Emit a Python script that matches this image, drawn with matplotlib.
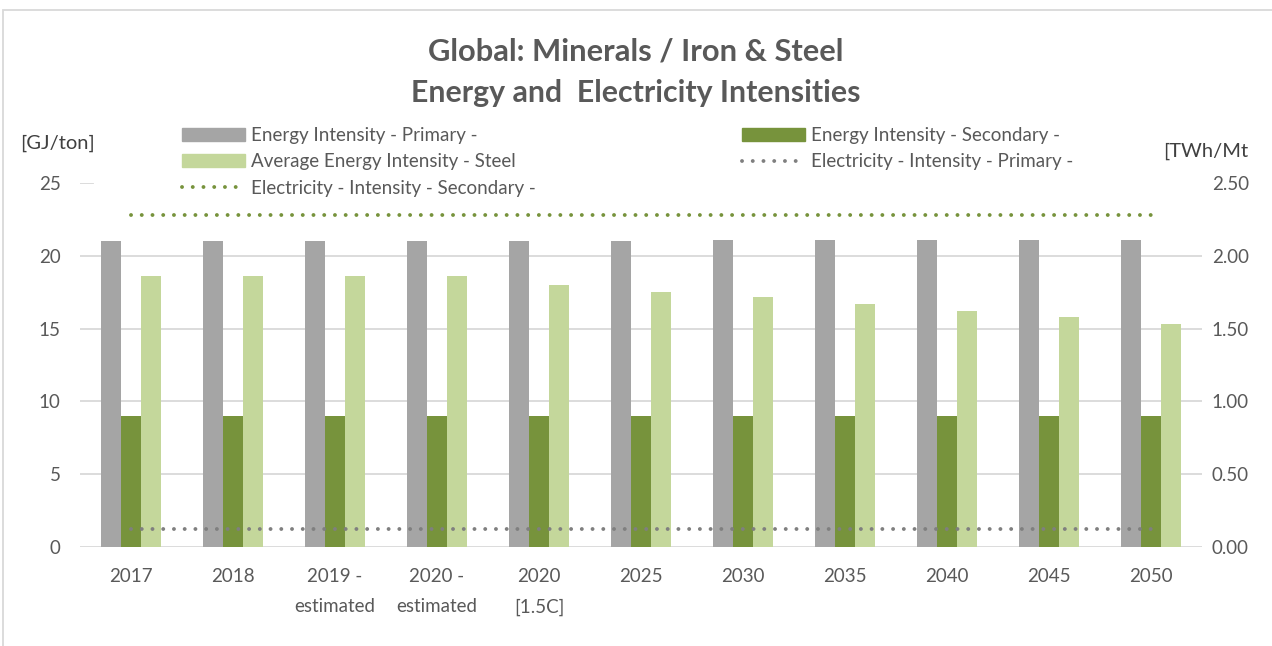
import numpy as np
import matplotlib.pyplot as plt
from matplotlib.patches import Patch, Rectangle
from matplotlib.lines import Line2D

plt.rcParams['font.family'] = ['Lato', 'DejaVu Sans']

# data
categories = ['2017', '2018', '2019 -\nestimated', '2020 -\nestimated', '2020\n[1.5C]',
              '2025', '2030', '2035', '2040', '2045', '2050']
energy_primary = [21.0, 21.0, 21.0, 21.0, 21.0, 21.0, 21.1, 21.1, 21.1, 21.1, 21.1]
energy_secondary = [9.0, 9.0, 9.0, 9.0, 9.0, 9.0, 9.0, 9.0, 9.0, 9.0, 9.0]
avg_steel = [18.6, 18.6, 18.6, 18.6, 18.0, 17.5, 17.2, 16.7, 16.2, 15.8, 15.3]
elec_secondary = [2.28] * 11   # TWh/Mt, right axis
elec_primary = [0.125] * 11    # TWh/Mt, right axis

left_ticks = [0, 5, 10, 15, 20, 25]
right_ticks = [0, 0.5, 1.0, 1.5, 2.0, 2.5]

GRAY = '#A5A5A5'
DKGREEN = '#77933C'
LTGREEN = '#C4D79B'
DOTGRAY = '#7F7F7F'
TXT = '#595959'
GRID = '#D9D9D9'

W, H = 1272, 646
fig = plt.figure(figsize=(W / 100, H / 100), dpi=100)
ax = fig.add_axes([80 / W, 1 - 547 / H, (1202 - 80) / W, (547 - 183) / H])

x = np.arange(len(categories))
bw = 0.19
ax.bar(x - 0.195, energy_primary, bw, color=GRAY, zorder=2)
ax.bar(x, energy_secondary, bw, color=DKGREEN, zorder=2)
ax.bar(x + 0.195, avg_steel, bw, color=LTGREEN, zorder=2)

ax.set_xlim(-0.5, len(categories) - 0.5)
ax.set_ylim(0, 25)
ax.set_yticks(left_ticks)
ax.set_xticks(x)
ax.set_xticklabels(categories, linespacing=1.95)
for y in left_ticks[:-1]:
    ax.axhline(y, color=GRID, lw=1.3, zorder=1)
ax.axhline(left_ticks[-1], xmax=0.012, color=GRID, lw=1.3, zorder=1)
ax.tick_params(axis='y', length=0, pad=14, labelsize=13.5, labelcolor=TXT)
ax.tick_params(axis='x', length=0, pad=15, labelsize=13.5, labelcolor=TXT)
for s in ax.spines.values():
    s.set_visible(False)

ax2 = ax.twinx()
dots = (0, (0.01, 2.75))
ax2.plot(x, elec_secondary, color=DKGREEN, lw=2.8, linestyle=dots, dash_capstyle='round')
ax2.plot(x, elec_primary, color=DOTGRAY, lw=2.8, linestyle=dots, dash_capstyle='round')
ax2.set_ylim(0, 2.5)
ax2.set_yticks(right_ticks)
ax2.set_yticklabels(['%.2f' % v for v in right_ticks])
ax2.tick_params(axis='y', length=0, pad=7, labelsize=13.5, labelcolor=TXT)
for s in ax2.spines.values():
    s.set_visible(False)

fig.text(0.5, 1 - 52 / H, 'Global: Minerals / Iron & Steel', ha='center', va='center',
         fontsize=22.2, fontweight='bold', color=TXT)
fig.text(0.5, 1 - 93 / H, 'Energy and  Electricity Intensities', ha='center', va='center',
         fontsize=21.8, fontweight='bold', color=TXT)
fig.text(20 / W, 1 - 143 / H, '[GJ/ton]', ha='left', va='center', fontsize=14.5, color='#404040')
fig.text(1163 / W, 1 - 151 / H, '[TWh/Mt', ha='left', va='center', fontsize=14.5, color='#404040')

h_prim = Patch(color=GRAY)
h_sec = Patch(color=DKGREEN)
h_avg = Patch(color=LTGREEN)
h_esec = Line2D([], [], color=DKGREEN, lw=2.8, linestyle=dots, dash_capstyle='round')
h_eprim = Line2D([], [], color=DOTGRAY, lw=2.8, linestyle=dots, dash_capstyle='round')

leg_kw = dict(frameon=False, fontsize=13.5, labelcolor=TXT, borderpad=0, borderaxespad=0,
              handlelength=3.35, handleheight=0.7, handletextpad=0.35, labelspacing=0.5,
              loc='upper left')
leg1 = fig.legend([h_prim, h_avg, h_esec],
                  ['Energy Intensity - Primary -', 'Average Energy Intensity - Steel',
                   'Electricity - Intensity - Secondary -'],
                  bbox_to_anchor=(182 / W, 1 - 127 / H), **leg_kw)
leg2 = fig.legend([h_sec, h_eprim],
                  ['Energy Intensity - Secondary -', 'Electricity - Intensity - Primary -'],
                  bbox_to_anchor=(742 / W, 1 - 127 / H), **leg_kw)

# outer chart border (top and left edges visible in the crop)
fig.patches.append(Rectangle((3 / W, -0.1), 1.2, 1 - 10 / H + 0.1, transform=fig.transFigure,
                             fill=False, edgecolor=GRID, lw=1.3))

fig.savefig('out.png', dpi=100)
